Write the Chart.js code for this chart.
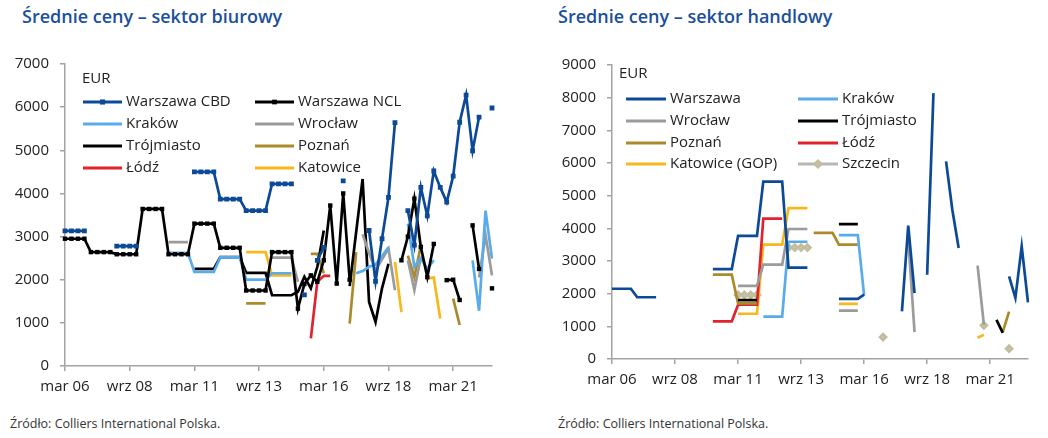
<!DOCTYPE html>
<html>
<head>
<meta charset="utf-8">
<title>Średnie ceny</title>
<script src="https://cdn.jsdelivr.net/npm/chart.js"></script>
<style>
  body { margin: 0; width: 1048px; height: 438px; background: #fff; position: relative; overflow: hidden; font-family: "Open Sans", sans-serif; }
  .title { position: absolute; top: 6px; font-size: 18px; font-weight: 600; color: #1b4f9c; line-height: 20px; white-space: nowrap; }
  .src { position: absolute; top: 417px; font-size: 12.5px; line-height: 14px; color: #333; white-space: nowrap; }
  canvas { position: absolute; top: 40px; }
</style>
</head>
<body>
  <div class="title" style="left:22px">Średnie ceny – sektor biurowy</div>
  <div class="title" style="left:558px">Średnie ceny – sektor handlowy</div>
  <canvas id="office" width="520" height="370" style="left:0"></canvas>
  <canvas id="retail" width="518" height="370" style="left:530px"></canvas>
  <div class="src" style="left:10px">Źródło: Colliers International Polska.</div>
  <div class="src" style="left:558px">Źródło: Colliers International Polska.</div>

  <script>
    const _ = null;

    // quarterly categories, Q1 2006 .. Q3 2022
    const monthNames = ["mar", "cze", "wrz", "gru"];
    const quarters = [];
    for (let q = 0; q < 67; q++) {
      quarters.push(monthNames[q % 4] + " " + String(6 + Math.floor(q / 4)).padStart(2, "0"));
    }
    const tickLabels = ["mar 06", "wrz 08", "mar 11", "wrz 13", "mar 16", "wrz 18", "mar 21"];

    // --- sektor biurowy (EUR) ---
    const cbdOffice = [
      3130,3130,3130,3130,_,_,_,_,2780,2780,
      2780,2780,_,_,_,_,_,_,_,_,
      4500,4500,4500,4500,3870,3870,3870,3870,3600,3600,
      3600,3600,4220,4220,4220,4220,_,1650,_,2450,
      2750,_,_,4290,_,_,_,3140,1960,2950,
      3910,5640,_,3600,2800,4140,3480,4520,4140,3800,
      4400,5650,6280,4990,5770,_,5980
    ];
    const nclOffice = [
      2950,2950,2950,2950,2640,2640,2640,2640,2590,2590,
      2590,2590,3640,3640,3640,3640,2590,2590,2590,2590,
      3300,3300,3300,3300,2740,2740,2740,2740,1750,1750,
      1750,1750,2640,2640,2640,2640,1330,1900,2100,1950,
      2450,3720,1910,4000,2000,_,_,_,_,_,
      _,_,2450,3000,3880,2760,2060,2830,_,1990,
      2000,1530,_,3260,2250,_,1800
    ];
    const krakowOffice = [
      _,_,_,_,_,_,_,_,_,_,
      _,_,_,_,_,_,2625,2625,2625,2625,
      2180,2180,2180,2180,2520,2520,2520,2520,2000,2000,
      2000,2000,2150,2150,2150,2150,_,_,_,_,
      _,_,_,_,_,2150,2200,2300,2350,2550,
      2750,_,_,3300,2300,2500,2250,2450,_,_,
      _,_,_,2450,1280,3600,2490
    ];
    const wroclawOffice = [
      _,_,_,_,_,_,_,_,_,_,
      _,_,_,_,_,_,2870,2870,2870,2870,
      _,_,_,_,_,_,_,_,_,_,
      _,_,2510,2510,2510,2510,1950,_,_,_,
      _,_,_,_,_,_,3050,2620,2215,2470,
      2720,1755,_,2450,1760,2520,_,_,_,_,
      _,_,_,_,2050,3030,2100
    ];
    const trojmiastoOffice = [
      _,_,_,_,_,_,_,_,_,_,
      _,_,_,_,_,_,_,_,_,_,
      2250,2250,2250,2250,2525,2525,2525,2525,2160,2160,
      2160,2160,1640,1640,1640,1640,1720,2070,1800,2300,
      3140,_,_,_,1850,3100,4335,1485,1020,1800,
      2370,_,_,_,_,_,_,_,_,_,
      _,_,_,_,_,_,_
    ];
    const poznanOffice = [
      _,_,_,_,_,_,_,_,_,_,
      _,_,_,_,_,_,_,_,_,_,
      _,_,_,_,_,_,_,_,1450,1450,
      1450,1450,_,_,_,_,_,_,2600,2600,
      2150,_,_,_,985,2640,_,_,_,_,
      _,_,_,2560,2060,2790,_,_,_,_,
      1560,950,_,_,_,_,_
    ];
    const lodzOffice = [
      _,_,_,_,_,_,_,_,_,_,
      _,_,_,_,_,_,_,_,_,_,
      _,_,_,_,_,_,_,_,_,_,
      _,_,_,_,_,_,_,_,640,1950,
      2090,2090,_,_,_,_,_,_,_,_,
      _,_,_,_,_,_,_,_,_,_,
      _,_,_,_,_,_,_
    ];
    const katowiceOffice = [
      _,_,_,_,_,_,_,_,_,_,
      _,_,_,_,_,_,_,_,_,_,
      _,_,_,_,_,_,_,_,2640,2640,
      2640,2640,2100,2100,2100,2100,_,_,_,_,
      _,_,_,_,_,_,_,_,_,_,
      _,2410,1250,_,_,_,2030,2050,1100,_,
      _,_,_,_,_,_,_
    ];

    // --- sektor handlowy (EUR) ---
    const warszawaRetail = [
      2150,2150,2150,2150,1890,1890,1890,1890,_,_,
      _,_,_,_,_,_,2750,2750,2750,2750,
      3770,3770,3770,3770,5430,5430,5430,5430,2800,2800,
      2800,2800,_,_,_,_,1840,1840,1840,1840,
      1970,_,_,_,_,_,1460,4080,2020,_,
      2580,8140,_,6050,4560,3400,_,_,_,_,
      _,_,_,2530,1870,3450,1735
    ];
    const krakowRetail = [
      _,_,_,_,_,_,_,_,_,_,
      _,_,_,_,_,_,_,_,_,_,
      _,_,_,_,1300,1300,1300,1300,3590,3590,
      3590,3590,_,_,_,_,3790,3790,3790,3790,
      1950,_,_,_,_,_,_,_,_,_,
      _,_,_,_,_,_,_,_,_,_,
      _,_,_,_,_,_,_
    ];
    const wroclawRetail = [
      _,_,_,_,_,_,_,_,_,_,
      _,_,_,_,_,_,_,_,_,_,
      2240,2240,2240,2240,2890,2890,2890,2890,3980,3980,
      3980,3980,_,_,_,_,1480,1480,1480,1480,
      _,_,_,_,_,_,_,3700,820,_,
      _,_,_,_,_,_,_,_,2860,1050,
      _,_,_,_,_,_,_
    ];
    const trojmiastoRetail = [
      _,_,_,_,_,_,_,_,_,_,
      _,_,_,_,_,_,_,_,_,_,
      1800,1800,1800,1800,_,_,_,_,_,_,
      _,_,_,_,_,_,4130,4130,4130,4130,
      _,_,_,_,_,_,_,_,_,_,
      _,_,_,_,_,_,_,_,_,_,
      _,1200,800,_,_,_,_
    ];
    const poznanRetail = [
      _,_,_,_,_,_,_,_,_,_,
      _,_,_,_,_,_,2580,2580,2580,2580,
      1700,1700,1700,1700,_,_,_,_,_,_,
      _,_,3860,3860,3860,3860,3500,3500,3500,3500,
      _,_,_,_,_,_,_,_,_,_,
      _,_,_,_,_,_,_,_,_,_,
      _,_,830,1450,_,_,_
    ];
    const lodzRetail = [
      _,_,_,_,_,_,_,_,_,_,
      _,_,_,_,_,_,1150,1150,1150,1150,
      1660,1660,1660,1660,4300,4300,4300,4300,_,_,
      _,_,_,_,_,_,_,_,_,_,
      _,_,_,_,_,_,_,_,_,_,
      _,_,_,_,_,_,_,_,_,_,
      _,_,_,_,_,_,_
    ];
    const katowiceRetail = [
      _,_,_,_,_,_,_,_,_,_,
      _,_,_,_,_,_,_,_,_,_,
      1385,1385,1385,1385,3500,3500,3500,3500,4620,4620,
      4620,4620,_,_,_,_,1690,1690,1690,1690,
      _,_,_,_,_,_,_,_,_,_,
      _,_,_,_,_,_,_,_,650,740,
      _,_,_,_,_,_,_
    ];
    const szczecinRetail = [
      _,_,_,_,_,_,_,_,_,_,
      _,_,_,_,_,_,_,_,_,_,
      1960,1960,1960,1960,_,_,_,_,3410,3410,
      3410,3410,_,_,_,_,_,_,_,_,
      _,_,_,670,_,_,_,_,_,_,
      _,_,_,_,_,_,_,_,_,1030,
      _,_,_,315,_,_,_
    ];

    const NAVY = "#0c4a97", SKY = "#5aabea", GREY = "#9b9b9b", BLACK = "#000000";
    const GOLD = "#ab8a2d", YELLOW = "#f7b81f", RED = "#e2232e", PALE = "#b7b7b7";

    function line(label, data, color, extra) {
      return Object.assign({
        label: label, data: data,
        borderColor: color, backgroundColor: color,
        pointBackgroundColor: color, pointBorderColor: color,
        borderWidth: 2.7, pointRadius: 0, pointHoverRadius: 0,
        tension: 0, spanGaps: false
      }, extra || {});
    }

    // legend drawn as a 2-column grid inside the plot, plus the "EUR" unit
    const gridLegend = {
      id: "gridLegend",
      afterDraw(chart, args, o) {
        const ctx = chart.ctx;
        ctx.save();
        ctx.font = '15px "Open Sans"';
        ctx.textBaseline = "middle";
        ctx.fillStyle = "#222";
        ctx.fillText("EUR", o.unitX, o.unitY);
        chart.data.datasets.forEach((ds, k) => {
          const x = o.cols[k % 2], y = o.rows[Math.floor(k / 2)];
          ctx.strokeStyle = ds.borderColor;
          ctx.lineWidth = 3;
          ctx.beginPath();
          ctx.moveTo(x, y);
          ctx.lineTo(x + o.len, y);
          ctx.stroke();
          if (ds.pointRadius > 0) {
            ctx.fillStyle = ds.pointBackgroundColor;
            ctx.strokeStyle = ds.pointBorderColor;
            Chart.helpers.drawPoint(ctx, { pointStyle: ds.pointStyle, radius: ds.pointRadius, borderWidth: 1 }, x + o.len / 2, y);
          }
          ctx.fillStyle = "#222";
          ctx.fillText(ds.label, x + o.len + 4, y);
        });
        ctx.restore();
      }
    };

    function scales(max, yWidth, xHeight) {
      const axisColor = "#a3a3a3";
      const font = { family: "Open Sans", size: 15 };
      return {
        x: {
          offset: false,
          border: { display: true, color: axisColor, width: 1.5 },
          grid: { drawOnChartArea: false, drawTicks: true, tickLength: 5, color: axisColor, lineWidth: 1.5 },
          ticks: {
            autoSkip: false, maxRotation: 0, padding: 7, color: "#222", font: font,
            callback: function (v) {
              const l = this.getLabelForValue(v);
              return tickLabels.includes(l) ? l : null;
            }
          },
          afterFit: s => { s.height = xHeight; }
        },
        y: {
          min: 0, max: max,
          border: { display: true, color: axisColor, width: 1.5 },
          grid: { drawOnChartArea: false, drawTicks: true, tickLength: 5, color: axisColor, lineWidth: 1.5 },
          ticks: { stepSize: 1000, padding: 11, color: "#222", font: font, callback: v => String(v) },
          afterFit: s => { s.width = yWidth; }
        }
      };
    }

    const common = {
      responsive: false,
      animation: false,
      events: []
    };

    new Chart(document.getElementById("office"), {
      type: "line",
      data: {
        labels: quarters,
        datasets: [
          line("Warszawa CBD", cbdOffice, NAVY, { pointRadius: 1.5, pointStyle: "rect" }),
          line("Warszawa NCL", nclOffice, BLACK, { pointRadius: 1.2, pointStyle: "rect" }),
          line("Kraków", krakowOffice, SKY),
          line("Wrocław", wroclawOffice, GREY),
          line("Trójmiasto", trojmiastoOffice, BLACK),
          line("Poznań", poznanOffice, GOLD),
          line("Łódź", lodzOffice, RED),
          line("Katowice", katowiceOffice, YELLOW)
        ]
      },
      options: Object.assign({}, common, {
        layout: { padding: { left: 0, right: 28, top: 24, bottom: 0 } },
        scales: scales(7000, 65, 44),
        plugins: {
          legend: { display: false },
          tooltip: { enabled: false },
          gridLegend: { unitX: 82, unitY: 39, cols: [83, 255], rows: [62, 84, 106, 128], len: 39 }
        }
      }),
      plugins: [gridLegend]
    });

    new Chart(document.getElementById("retail"), {
      type: "line",
      data: {
        labels: quarters,
        datasets: [
          line("Warszawa", warszawaRetail, NAVY),
          line("Kraków", krakowRetail, SKY),
          line("Wrocław", wroclawRetail, GREY),
          line("Trójmiasto", trojmiastoRetail, BLACK),
          line("Poznań", poznanRetail, GOLD),
          line("Łódź", lodzRetail, RED),
          line("Katowice (GOP)", katowiceRetail, YELLOW),
          line("Szczecin", szczecinRetail, PALE, { pointRadius: 3, pointStyle: "rectRot", pointBackgroundColor: "#cdc8a9", pointBorderColor: "#c2bd9d" })
        ]
      },
      options: Object.assign({}, common, {
        layout: { padding: { left: 0, right: 20, top: 25, bottom: 0 } },
        scales: scales(9000, 82, 51),
        plugins: {
          legend: { display: false },
          tooltip: { enabled: false },
          gridLegend: { unitX: 89, unitY: 34, cols: [96, 268], rows: [59, 81, 103, 124], len: 40 }
        }
      }),
      plugins: [gridLegend]
    });
  </script>
</body>
</html>
